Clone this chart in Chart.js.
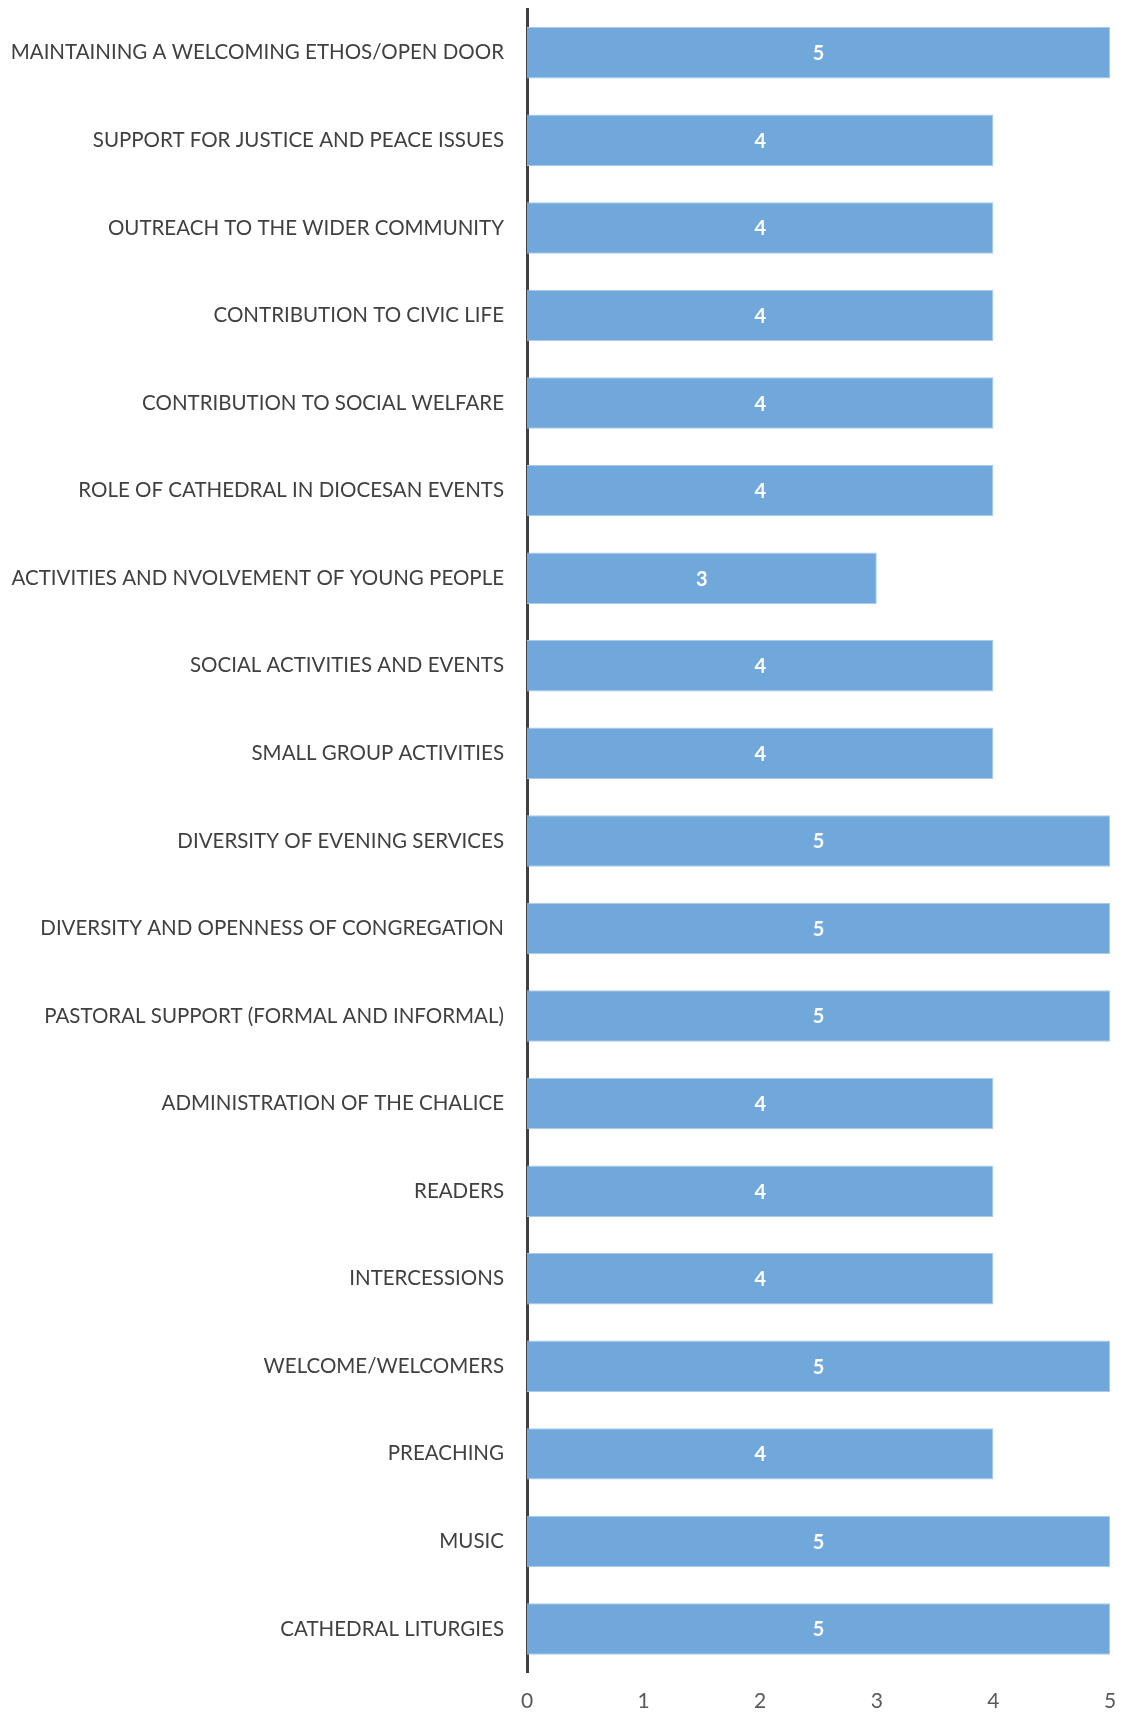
<!DOCTYPE html>
<html>
<head>
<meta charset="utf-8">
<script src="https://cdn.jsdelivr.net/npm/chart.js@4"></script>
<style>
  html, body { margin: 0; padding: 0; background: #fff; overflow: hidden; }
  #wrap { width: 1124px; height: 1741px; position: relative; }
</style>
</head>
<body>
<div id="wrap"><canvas id="chart"></canvas></div>
<script>
// categories, top to bottom as in the picture
const categories = [
  "MAINTAINING A WELCOMING ETHOS/OPEN DOOR",
  "SUPPORT FOR JUSTICE AND PEACE ISSUES",
  "OUTREACH TO THE WIDER COMMUNITY",
  "CONTRIBUTION TO CIVIC LIFE",
  "CONTRIBUTION TO SOCIAL WELFARE",
  "ROLE OF CATHEDRAL IN DIOCESAN EVENTS",
  "ACTIVITIES AND NVOLVEMENT OF YOUNG PEOPLE",
  "SOCIAL ACTIVITIES AND EVENTS",
  "SMALL GROUP ACTIVITIES",
  "DIVERSITY OF EVENING SERVICES",
  "DIVERSITY AND OPENNESS OF CONGREGATION",
  "PASTORAL SUPPORT (FORMAL AND INFORMAL)",
  "ADMINISTRATION OF THE CHALICE",
  "READERS",
  "INTERCESSIONS",
  "WELCOME/WELCOMERS",
  "PREACHING",
  "MUSIC",
  "CATHEDRAL LITURGIES",
];
const scores = [5, 4, 4, 4, 4, 4, 3, 4, 4, 5, 5, 5, 4, 4, 4, 5, 4, 5, 5];
const xTicks = [0, 1, 2, 3, 4, 5];

const FONT = "Lato";

// white value labels in the middle of each bar
const barValues = {
  id: "barValues",
  afterDatasetsDraw(chart) {
    const ctx = chart.ctx;
    const meta = chart.getDatasetMeta(0);
    ctx.save();
    ctx.fillStyle = "#ffffff";
    ctx.font = "bold 20px " + FONT;
    ctx.textAlign = "center";
    ctx.textBaseline = "middle";
    meta.data.forEach((bar, i) => {
      const x = (bar.x + bar.base) / 2;
      ctx.fillText(String(scores[i]), x, bar.y + 1);
    });
    ctx.restore();
  },
};

const ctx = document.getElementById("chart").getContext("2d");
new Chart(ctx, {
  type: "bar",
  data: {
    labels: categories,
    datasets: [
      {
        data: scores,
        backgroundColor: "#71a8db",
        borderColor: "#a9cbea",
        borderWidth: 1,
        categoryPercentage: 1,
        barPercentage: 0.588,
      },
    ],
  },
  options: {
    indexAxis: "y",
    responsive: true,
    maintainAspectRatio: false,
    animation: false,
    layout: { padding: { top: 9, right: 14, left: 0, bottom: 11 } },
    plugins: {
      legend: { display: false },
      tooltip: { enabled: false },
    },
    scales: {
      y: {
        grid: { display: false },
        border: { display: true, color: "#404040", width: 3 },
        ticks: {
          color: "#404040",
          font: { family: FONT, size: 20.5 },
          padding: 15,
        },
        afterFit(scale) {
          scale.width = 527;
          scale.paddingTop = 0;
          scale.paddingBottom = 0;
        },
      },
      x: {
        min: 0,
        max: 5,
        grid: { display: false, drawTicks: false },
        border: { display: false },
        ticks: {
          stepSize: 1,
          color: "#595959",
          font: { family: FONT, size: 21 },
          padding: 16,
          callback: (v) => (xTicks.includes(v) ? String(v) : ""),
        },
        afterFit(scale) {
          scale.paddingLeft = 0;
          scale.paddingRight = 0;
        },
      },
    },
  },
  plugins: [barValues],
});
</script>
</body>
</html>
